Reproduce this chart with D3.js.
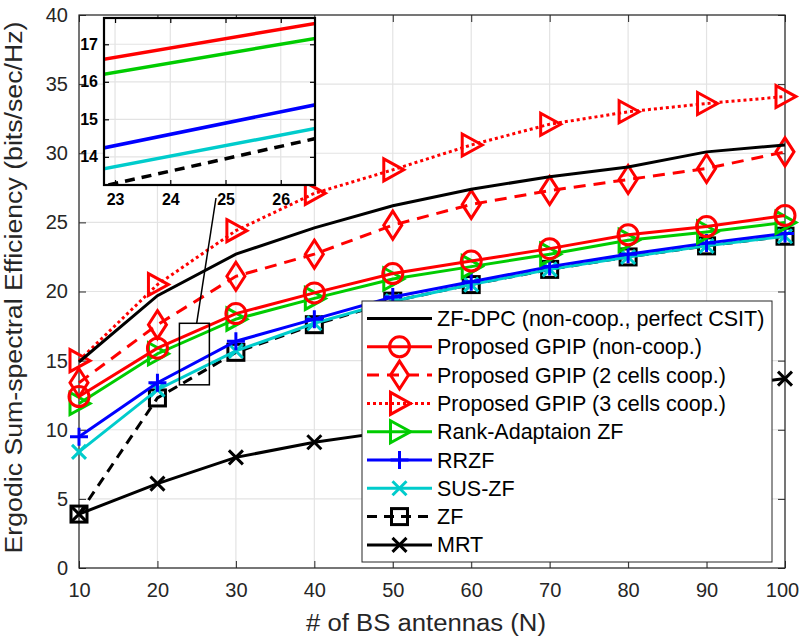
<!DOCTYPE html>
<html>
<head>
<meta charset="utf-8">
<script src="https://cdn.jsdelivr.net/npm/d3@7"></script>
<style>
  html, body { margin: 0; padding: 0; background: #fff; }
  svg { display: block; font-family: "Liberation Sans", Arial, Helvetica, sans-serif; }
</style>
</head>
<body>
<svg id="chart" width="800" height="638"></svg>
<script>
// ---------- data ----------
const antennas = [10, 20, 30, 40, 50, 60, 70, 80, 90, 100];
const zfDpc     = [14.9, 19.7, 22.7, 24.6, 26.2, 27.4, 28.3, 29.0, 30.1, 30.6];
const gpipNon   = [12.4, 15.9, 18.4, 19.9, 21.3, 22.2, 23.1, 24.1, 24.7, 25.5];
const gpip2     = [13.4, 17.6, 21.1, 22.7, 24.8, 26.3, 27.3, 28.1, 28.9, 30.1];
const gpip3     = [15.0, 20.5, 24.4, 27.1, 28.8, 30.6, 32.1, 33.0, 33.6, 34.1];
const rankAdZf  = [11.9, 15.5, 18.0, 19.5, 20.9, 21.8, 22.7, 23.7, 24.3, 25.0];
const rrzf      = [9.5, 13.4, 16.4, 18.0, 19.6, 20.7, 21.8, 22.7, 23.5, 24.2];
const susZf     = [8.4, 12.9, 15.7, 17.7, 19.3, 20.5, 21.6, 22.5, 23.3, 24.0];
const zf        = [3.9, 12.3, 15.6, 17.6, 19.3, 20.5, 21.6, 22.5, 23.3, 24.0];
const mrt       = [3.9, 6.1, 8.0, 9.1, 9.9, 10.7, 11.5, 12.2, 13.0, 13.7];

const seriesNames = [
  "ZF-DPC (non-coop., perfect CSIT)",
  "Proposed GPIP (non-coop.)",
  "Proposed GPIP (2 cells coop.)",
  "Proposed GPIP (3 cells coop.)",
  "Rank-Adaptaion ZF",
  "RRZF",
  "SUS-ZF",
  "ZF",
  "MRT"
];
const xTicks = [10, 20, 30, 40, 50, 60, 70, 80, 90, 100];
const yTicks = [0, 5, 10, 15, 20, 25, 30, 35, 40];
const insetXTicks = [23, 24, 25, 26];
const insetYTicks = [14, 15, 16, 17];
const insetXDomain = [22.8, 26.62];
const insetYDomain = [13.25, 17.7];

// ---------- styles ----------
const series = [
  {name: seriesNames[0], values: zfDpc,    color: "#000000", dash: null,    marker: "none"},
  {name: seriesNames[1], values: gpipNon,  color: "#ff0000", dash: null,    marker: "circle"},
  {name: seriesNames[2], values: gpip2,    color: "#ff0000", dash: "12,8",  marker: "diamond"},
  {name: seriesNames[3], values: gpip3,    color: "#ff0000", dash: "3,3",   marker: "triangle"},
  {name: seriesNames[4], values: rankAdZf, color: "#00cc00", dash: null,    marker: "triangle"},
  {name: seriesNames[5], values: rrzf,     color: "#0000ff", dash: null,    marker: "plus"},
  {name: seriesNames[6], values: susZf,    color: "#00cccc", dash: null,    marker: "x"},
  {name: seriesNames[7], values: zf,       color: "#000000", dash: "10,7",  marker: "square"},
  {name: seriesNames[8], values: mrt,      color: "#000000", dash: null,    marker: "x"}
];
const drawOrder = [8, 7, 6, 5, 4, 3, 2, 0, 1];

const svg = d3.select("#chart");
const W = 800, H = 638;
const plot = {left: 79, right: 785, top: 15, bottom: 568};
const axisColor = "#262626";
const gridColor = "#e3e3e3";

const x = d3.scaleLinear().domain([10, 100]).range([plot.left, plot.right]);
const y = d3.scaleLinear().domain([0, 40]).range([plot.bottom, plot.top]);

svg.append("rect").attr("width", W).attr("height", H).attr("fill", "#fff");

// grid
const grid = svg.append("g");
grid.selectAll("line.gx").data(xTicks).join("line")
  .attr("x1", d => x(d)).attr("x2", d => x(d))
  .attr("y1", plot.top).attr("y2", plot.bottom)
  .attr("stroke", gridColor).attr("stroke-width", 1.2);
grid.selectAll("line.gy").data(yTicks).join("line")
  .attr("y1", d => y(d)).attr("y2", d => y(d))
  .attr("x1", plot.left).attr("x2", plot.right)
  .attr("stroke", gridColor).attr("stroke-width", 1.2);

// axes
const tickLen = 7;
const fontSize = 20;
const xAxis = d3.axisBottom(x).tickValues(xTicks).tickSizeInner(-tickLen).tickSizeOuter(0).tickPadding(15);
const yAxis = d3.axisLeft(y).tickValues(yTicks).tickSizeInner(-tickLen).tickSizeOuter(0).tickPadding(11);
const xTop = d3.axisTop(x).tickValues(xTicks).tickSizeInner(-tickLen).tickSizeOuter(0).tickFormat("");
const yRight = d3.axisRight(y).tickValues(yTicks).tickSizeInner(-tickLen).tickSizeOuter(0).tickFormat("");

function styleAxis(g) {
  g.select(".domain").remove();
  g.selectAll("line").attr("stroke", axisColor).attr("stroke-width", 1);
  g.selectAll("text").attr("fill", axisColor).attr("font-size", fontSize)
    .attr("font-family", "Liberation Sans, Arial, sans-serif");
}
const xAxisG = svg.append("g").attr("transform", `translate(0,${plot.bottom})`).call(xAxis).call(styleAxis);
// keep the last label inside the page edge
xAxisG.selectAll(".tick text").filter(d => d === 100).attr("dx", -3);
svg.append("g").attr("transform", `translate(${plot.left},0)`).call(yAxis).call(styleAxis);
svg.append("g").attr("transform", `translate(0,${plot.top})`).call(xTop).call(styleAxis);
svg.append("g").attr("transform", `translate(${plot.right},0)`).call(yRight).call(styleAxis);

// axis box
svg.append("rect")
  .attr("x", plot.left).attr("y", plot.top)
  .attr("width", plot.right - plot.left).attr("height", plot.bottom - plot.top)
  .attr("fill", "none").attr("stroke", axisColor).attr("stroke-width", 1.2);

// markers
function drawMarker(g, type, cx, cy, color) {
  const sw = 3;
  if (type === "circle") {
    g.append("circle").attr("cx", cx).attr("cy", cy).attr("r", 10)
      .attr("fill", "none").attr("stroke", color).attr("stroke-width", sw);
  } else if (type === "diamond") {
    g.append("path").attr("d", `M${cx},${cy-14}L${cx+9},${cy}L${cx},${cy+14}L${cx-9},${cy}Z`)
      .attr("fill", "none").attr("stroke", color).attr("stroke-width", sw);
  } else if (type === "triangle") {
    g.append("path").attr("d", `M${cx-9},${cy-11}L${cx+11},${cy}L${cx-9},${cy+11}Z`)
      .attr("fill", "none").attr("stroke", color).attr("stroke-width", sw);
  } else if (type === "square") {
    g.append("rect").attr("x", cx-8).attr("y", cy-8).attr("width", 16).attr("height", 16)
      .attr("fill", "none").attr("stroke", color).attr("stroke-width", sw);
  } else if (type === "plus") {
    g.append("path").attr("d", `M${cx-9},${cy}L${cx+9},${cy}M${cx},${cy-9}L${cx},${cy+9}`)
      .attr("stroke", color).attr("stroke-width", sw);
  } else if (type === "x") {
    g.append("path").attr("d", `M${cx-7},${cy-7}L${cx+7},${cy+7}M${cx-7},${cy+7}L${cx+7},${cy-7}`)
      .attr("stroke", color).attr("stroke-width", sw);
  }
}

const line = d3.line().x(d => x(d[0])).y(d => y(d[1]));
const dataG = svg.append("g");
drawOrder.forEach(i => {
  const s = series[i];
  const pts = antennas.map((n, k) => [n, s.values[k]]);
  const g = dataG.append("g");
  g.append("path").attr("d", line(pts)).attr("fill", "none")
    .attr("stroke", s.color).attr("stroke-width", 3)
    .attr("stroke-dasharray", s.dash);
  pts.forEach(p => drawMarker(g, s.marker, x(p[0]), y(p[1]), s.color));
});

// zoom rectangle in main axes
svg.append("rect")
  .attr("x", x(insetXDomain[0])).attr("y", y(insetYDomain[1]))
  .attr("width", x(insetXDomain[1]) - x(insetXDomain[0]))
  .attr("height", y(insetYDomain[0]) - y(insetYDomain[1]))
  .attr("fill", "none").attr("stroke", "#000").attr("stroke-width", 1.5);

// inset
const inset = {left: 104, right: 315, top: 18, bottom: 185};
svg.append("line")
  .attr("x1", x(25)).attr("y1", y(insetYDomain[1]))
  .attr("x2", 216).attr("y2", 198)
  .attr("stroke", "#000").attr("stroke-width", 1.5);

const ix = d3.scaleLinear().domain(insetXDomain).range([inset.left, inset.right]);
const iy = d3.scaleLinear().domain(insetYDomain).range([inset.bottom, inset.top]);
const ig = svg.append("g");
ig.append("rect").attr("x", inset.left).attr("y", inset.top)
  .attr("width", inset.right - inset.left).attr("height", inset.bottom - inset.top)
  .attr("fill", "#fff");
ig.selectAll("line.igx").data(insetXTicks).join("line")
  .attr("x1", d => ix(d)).attr("x2", d => ix(d)).attr("y1", inset.top).attr("y2", inset.bottom)
  .attr("stroke", gridColor).attr("stroke-width", 1.2);
ig.selectAll("line.igy").data(insetYTicks).join("line")
  .attr("y1", d => iy(d)).attr("y2", d => iy(d)).attr("x1", inset.left).attr("x2", inset.right)
  .attr("stroke", gridColor).attr("stroke-width", 1.2);

const clipId = "insetClip";
svg.append("clipPath").attr("id", clipId).append("rect")
  .attr("x", inset.left).attr("y", inset.top)
  .attr("width", inset.right - inset.left).attr("height", inset.bottom - inset.top);
const iline = d3.line().x(d => ix(d[0])).y(d => iy(d[1]));
const insetData = ig.append("g").attr("clip-path", `url(#${clipId})`);
[7, 6, 5, 4, 1].forEach(i => {
  const s = series[i];
  const pts = antennas.map((n, k) => [n, s.values[k]]);
  insetData.append("path").attr("d", iline(pts)).attr("fill", "none")
    .attr("stroke", s.color).attr("stroke-width", 3.5)
    .attr("stroke-dasharray", s.dash);
});

function styleInset(g) {
  g.select(".domain").remove();
  g.selectAll("line").attr("stroke", "#000").attr("stroke-width", 1.2);
  g.selectAll("text").attr("fill", "#000").attr("font-size", 16).attr("font-weight", "bold")
    .attr("font-family", "Liberation Sans, Arial, sans-serif");
}
const intFmt = d3.format("d");
ig.append("g").attr("transform", `translate(0,${inset.bottom})`)
  .call(d3.axisBottom(ix).tickValues(insetXTicks).tickFormat(intFmt).tickSizeInner(-5).tickSizeOuter(0).tickPadding(9)).call(styleInset);
ig.append("g").attr("transform", `translate(${inset.left},0)`)
  .call(d3.axisLeft(iy).tickValues(insetYTicks).tickFormat(intFmt).tickSizeInner(-5).tickSizeOuter(0).tickPadding(6)).call(styleInset);
ig.append("g").attr("transform", `translate(0,${inset.top})`)
  .call(d3.axisTop(ix).tickValues(insetXTicks).tickSizeInner(-5).tickSizeOuter(0).tickFormat("")).call(styleInset);
ig.append("g").attr("transform", `translate(${inset.right},0)`)
  .call(d3.axisRight(iy).tickValues(insetYTicks).tickSizeInner(-5).tickSizeOuter(0).tickFormat("")).call(styleInset);
ig.append("rect").attr("x", inset.left).attr("y", inset.top)
  .attr("width", inset.right - inset.left).attr("height", inset.bottom - inset.top)
  .attr("fill", "none").attr("stroke", "#000").attr("stroke-width", 2.2);

// axis labels
svg.append("text").attr("x", (plot.left + plot.right) / 2 - 6).attr("y", 631)
  .attr("text-anchor", "middle").attr("font-size", 23).attr("fill", axisColor)
  .attr("textLength", 240).attr("lengthAdjust", "spacingAndGlyphs")
  .text("# of BS antennas (N)");
svg.append("text").attr("transform", `translate(22,${(plot.top + plot.bottom) / 2 - 4}) rotate(-90)`)
  .attr("text-anchor", "middle").attr("font-size", 23).attr("fill", axisColor)
  .attr("textLength", 532).attr("lengthAdjust", "spacingAndGlyphs")
  .text("Ergodic Sum-spectral Efficiency (bits/sec/Hz)");

// legend
const leg = {left: 362, top: 301, right: 772, bottom: 562};
const lg = svg.append("g");
lg.append("rect").attr("x", leg.left).attr("y", leg.top)
  .attr("width", leg.right - leg.left).attr("height", leg.bottom - leg.top)
  .attr("fill", "#fff").attr("stroke", axisColor).attr("stroke-width", 1);
series.forEach((s, i) => {
  const cy = 318.5 + i * 28.3;
  const g = lg.append("g");
  g.append("line").attr("x1", 367).attr("x2", 432).attr("y1", cy).attr("y2", cy)
    .attr("stroke", s.color).attr("stroke-width", 3).attr("stroke-dasharray", s.dash);
  drawMarker(g, s.marker, 399.5, cy, s.color);
  g.append("text").attr("x", 437).attr("y", cy).attr("dy", "0.35em")
    .attr("font-size", 21.5).attr("fill", "#000").text(s.name);
});
</script>
</body>
</html>
